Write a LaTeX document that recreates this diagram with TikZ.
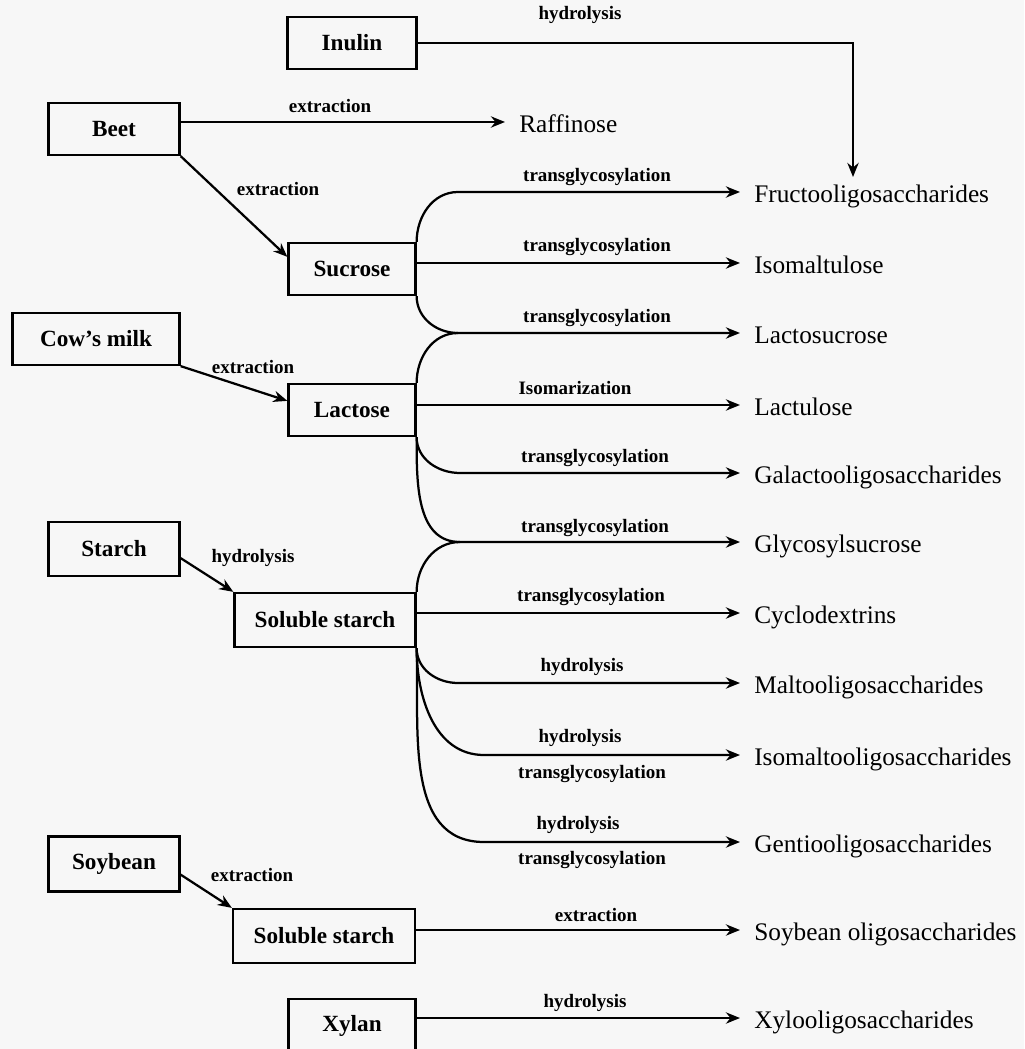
\documentclass[tikz,border=0pt]{standalone}
\usepackage{fontspec}
\setmainfont{Liberation Serif}
\usetikzlibrary{arrows.meta,calc}

\tikzset{
  srcbox/.style={draw, line width=1.6pt, minimum height=1.3cm, inner sep=0pt,
    font=\bfseries\fontsize{16.5}{18}\selectfont},
  prod/.style={anchor=west, inner xsep=0.35cm, inner ysep=1pt,
    text height=16pt, text depth=1pt, font=\fontsize{18}{20}\selectfont},
  lbl/.style={inner sep=0pt, font=\bfseries\fontsize{13.5}{15}\selectfont},
  flow/.style={line width=1.6pt, -{Stealth[length=10pt,width=8pt]}},
  branch/.style={line width=1.6pt}
}

\begin{document}
\begin{tikzpicture}[x=0.025cm, y=-0.025cm]
\fill[black!3] (0,0) rectangle (1024,1049);
\useasboundingbox (0,0) rectangle (1024,1049);

% sources
\node[srcbox, minimum width=3.225cm] (inulin) at (352,43) {Inulin};
\node[srcbox, minimum width=3.275cm] (beet) at (114,129) {Beet};
\node[srcbox, minimum width=3.175cm] (suc) at (352,269) {Sucrose};
\node[srcbox, minimum width=4.175cm] (cow) at (96,339) {Cow’s milk};
\node[srcbox, minimum width=3.175cm] (lac) at (352,410) {Lactose};
\node[srcbox, minimum width=3.275cm, minimum height=1.35cm] (starch) at (114,549) {Starch};
\node[srcbox, minimum width=4.525cm, minimum height=1.35cm] (sst) at (325,620) {Soluble starch};
\node[srcbox, minimum width=3.275cm, minimum height=1.375cm] (soy) at (114,864) {Soybean};
\node[srcbox, minimum width=4.55cm, minimum height=1.35cm] (sst2) at (324,936) {Soluble starch};
\node[srcbox, minimum width=3.175cm, minimum height=1.35cm] (xylan) at (352,1026) {Xylan};

% products
\node[prod] (raff) at (505,122) {Raffinose};
\node[prod] (fru) at (740,192) {Fructooligosaccharides};
\node[prod] (iso) at (740,263) {Isomaltulose};
\node[prod] (lsu) at (740,333) {Lactosucrose};
\node[prod] (lul) at (740,405) {Lactulose};
\node[prod] (gal) at (740,473) {Galactooligosaccharides};
\node[prod] (gly) at (740,542) {Glycosylsucrose};
\node[prod] (cyc) at (740,613) {Cyclodextrins};
\node[prod] (mal) at (740,683) {Maltooligosaccharides};
\node[prod] (ima) at (740,755) {Isomaltooligosaccharides};
\node[prod] (gen) at (740,842) {Gentiooligosaccharides};
\node[prod] (soyo) at (740,930) {Soybean oligosaccharides};
\node[prod] (xyl) at (740,1018) {Xylooligosaccharides};

% junctions
\coordinate (inuEnd) at (853,177);
\coordinate (jFru) at (458,192);
\coordinate (jLsu) at (458,333);
\coordinate (jGal) at (460,473);
\coordinate (jGly) at (460,542);
\coordinate (jMal) at (458,683);
\coordinate (jIma) at (484,755);
\coordinate (jGen) at (484,842);

% arrows
\draw[flow] (inulin.east) -| (inuEnd);
\draw[flow] (beet.east |- raff.west) -- (raff.west);
\draw[flow] (beet.south east) -- ($(suc.north west)+(0,15)$);
\draw[flow] (cow.south east) -- ($(lac.north west)+(0,18)$);
\draw[flow] ($(starch.south east)+(0,-19)$) -- (sst.north west);
\draw[flow] ($(soy.south east)+(0,-18)$) -- (sst2.north west);

\draw[flow] (suc.north east) to[out=90,in=180] (jFru) -- (fru.west);
\draw[flow] (suc.east |- iso.west) -- (iso.west);
\draw[flow] (suc.south east) to[out=-90,in=180] (jLsu) -- (lsu.west);
\draw[branch] (lac.north east) to[out=90,in=180] (jLsu);
\draw[flow] (lac.east |- lul.west) -- (lul.west);
\draw[flow] (lac.south east) to[out=-90,in=180] (jGal) -- (gal.west);
\draw[flow] (lac.south east) to[out=-90,in=180] (jGly) -- (gly.west);
\draw[branch] (sst.north east) to[out=90,in=180] (jGly);
\draw[flow] (sst.east |- cyc.west) -- (cyc.west);
\draw[flow] (sst.south east) to[out=-90,in=180] (jMal) -- (mal.west);
\draw[flow] (sst.south east) to[out=-90,in=180] (jIma) -- (ima.west);
\draw[flow] (sst.south east) to[out=-88,in=180] (jGen) -- (gen.west);
\draw[flow] (sst2.east |- soyo.west) -- (soyo.west);
\draw[flow] (xylan.east |- xyl.west) -- (xyl.west);

% labels
\node[lbl] (lInu) at (580,15) {hydrolysis};
\node[lbl] (lRaf) at (330,106) {extraction};
\node[lbl] (lSuc) at (278,189) {extraction};
\node[lbl] (lLac) at (253,367) {extraction};
\node[lbl] (lSst) at (253,558) {hydrolysis};
\node[lbl] (lSst2) at (252,875) {extraction};
\node[lbl] (lFru) at (597,177) {transglycosylation};
\node[lbl] (lIso) at (597,247) {transglycosylation};
\node[lbl] (lLsu) at (597,318) {transglycosylation};
\node[lbl] (lLul) at (575,388) {Isomarization};
\node[lbl] (lGal) at (595,458) {transglycosylation};
\node[lbl] (lGly) at (595,528) {transglycosylation};
\node[lbl] (lCyc) at (591,597) {transglycosylation};
\node[lbl] (lMal) at (582,667) {hydrolysis};
\node[lbl] (lImaA) at (580,738) {hydrolysis};
\node[lbl] (lImaB) at (592,774) {transglycosylation};
\node[lbl] (lGenA) at (578,825) {hydrolysis};
\node[lbl] (lGenB) at (592,860) {transglycosylation};
\node[lbl] (lSoyo) at (596,915) {extraction};
\node[lbl] (lXyl) at (585,1003) {hydrolysis};
\end{tikzpicture}
\end{document}
